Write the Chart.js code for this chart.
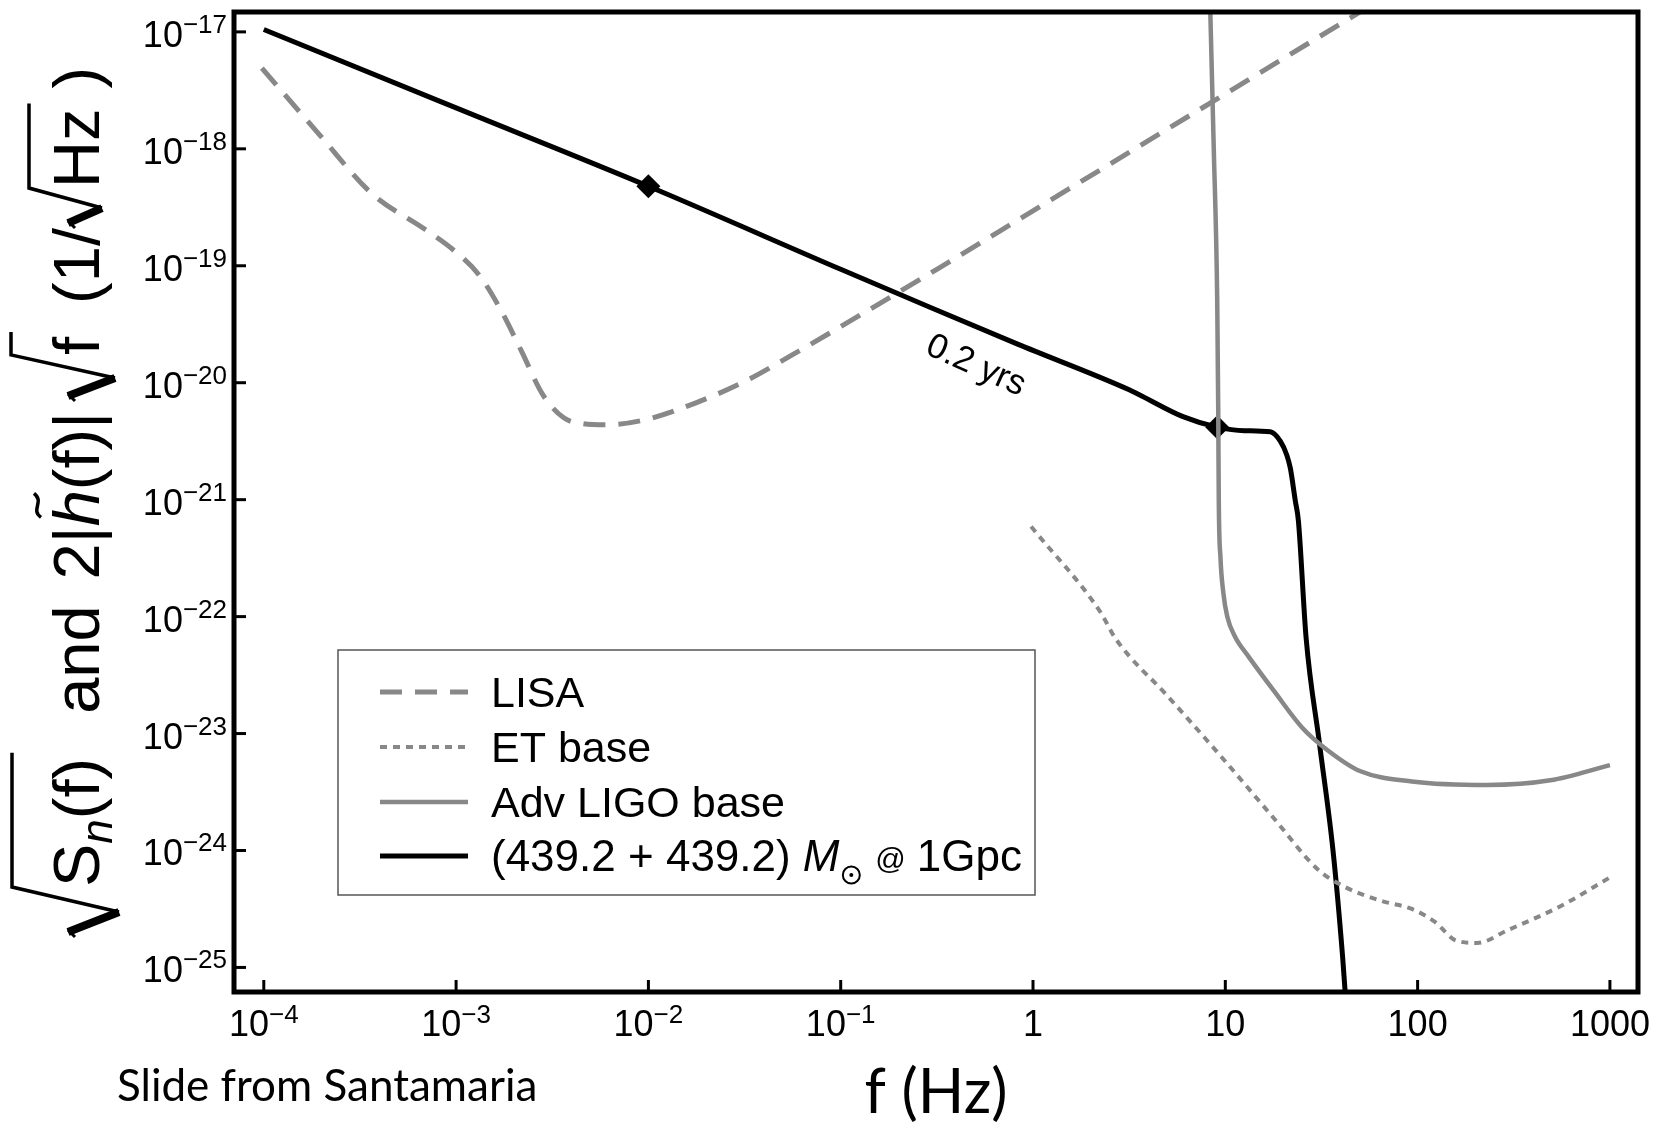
<!DOCTYPE html>
<html>
<head>
<meta charset="utf-8">
<script src="https://cdn.jsdelivr.net/npm/chart.js@4.4.1/dist/chart.umd.min.js"></script>
<style>
    html, body { margin: 0; padding: 0; background: #fff; }
    #wrap { width: 1665px; height: 1122px; }
</style>
</head>
<body>
<div id="wrap"><canvas id="sens" width="1665" height="1122"></canvas></div>
<script>
// all curves are stored as log10(f) / log10(amplitude)

// LISA
const lisaLogF = [-4.01, -3.71, -3.44, -3.16, -3.01, -2.88, -2.77, -2.66, -2.55, -2.44, -2.34, -2.22, -2.0, -1.75, -1.5, -1.25, -1.0, -0.5, 0, 1.0, 2.0];
const lisaLogS = [-17.31, -17.88, -18.38, -18.69, -18.87, -19.08, -19.37, -19.73, -20.10, -20.30, -20.35, -20.36, -20.31, -20.17, -19.99, -19.76, -19.52, -19.03, -18.53, -17.53, -16.53];

// ET base
const etLogF = [-0.01, 0.35, 0.43, 0.70, 0.98, 1.25, 1.48, 1.62, 1.81, 1.97, 2.09, 2.20, 2.31, 2.47, 2.75, 3.0];
const etLogS = [-21.23, -21.96, -22.19, -22.68, -23.20, -23.72, -24.16, -24.31, -24.43, -24.50, -24.61, -24.77, -24.79, -24.68, -24.47, -24.23];

// Adv LIGO base
const ligoLogF = [0.918, 0.922, 0.94, 0.958, 0.963, 0.966, 0.975, 0.99, 1.01, 1.05, 1.12, 1.255, 1.40, 1.53, 1.70, 1.97, 2.36, 2.69, 3.0];
const ligoLogS = [-16.6, -16.83, -18.0, -19.31, -20.2, -21.0, -21.5, -21.8, -22.0, -22.17, -22.34, -22.64, -22.95, -23.14, -23.32, -23.41, -23.44, -23.40, -23.27];

// (439.2 + 439.2) Msun binary at 1 Gpc
const bbhLogF = [-4.0, -3.0, -2.0, -1.0, -0.6, -0.08, 0.5, 0.55, 0.78, 0.958, 1.1, 1.234, 1.286, 1.32, 1.338, 1.364, 1.38, 1.42, 1.49, 1.56, 1.61, 1.64];
const bbhLogS = [-16.98, -17.65, -18.32, -19.03, -19.31, -19.67, -20.06, -20.10, -20.29, -20.38, -20.41, -20.42, -20.50, -20.62, -20.73, -21.01, -21.18, -22.18, -23.09, -24.0, -24.91, -25.6];

// diamonds on the binary track
const markLogF = [-2.0, 0.958];
const markLogS = [-18.32, -20.38];

const xTickExp = [-4, -3, -2, -1, 0, 1, 2, 3];
const xTickLabels = ['10^\u22124', '10^\u22123', '10^\u22122', '10^\u22121', '1', '10', '100', '1000'];
const yTickExp = [-17, -18, -19, -20, -21, -22, -23, -24, -25];
const yTickLabels = ['10^\u221217', '10^\u221218', '10^\u221219', '10^\u221220', '10^\u221221', '10^\u221222', '10^\u221223', '10^\u221224', '10^\u221225'];

const legendLabels = ['LISA', 'ET base', 'Adv LIGO base', '(439.2 + 439.2)'];
const trackLabel = '0.2 yrs';

const gray = '#888888';
const helv = '"Liberation Sans", Arial, sans-serif';
const gill = 'Lato, "Open Sans", sans-serif';

const toPoints = (lf, ls) => lf.map((f, i) => ({ x: Math.pow(10, f), y: Math.pow(10, ls[i]) }));

// draws "10^-n" style label, main text plus raised exponent
const drawPow = (ctx, label, x, y, align, mainFont, supFont, rise) => {
    const parts = label.split('^');
    ctx.font = mainFont;
    const w1 = ctx.measureText(parts[0]).width;
    let w2 = 0;
    if (parts[1]) {
        ctx.font = supFont;
        w2 = ctx.measureText(parts[1]).width;
    }
    const x0 = align === 'right' ? x - w1 - w2 : x - (w1 + w2) / 2;
    ctx.font = mainFont;
    ctx.fillText(parts[0], x0, y);
    if (parts[1]) {
        ctx.font = supFont;
        ctx.fillText(parts[1], x0 + w1, y - rise);
    }
}

// rotated y title: sqrt(S_n(f))  and  2|h~(f)| sqrt(f)  (1/sqrt(Hz))
const drawYTitle = (ctx) => {
    ctx.save();
    ctx.translate(99, 937);
    ctx.rotate(-Math.PI / 2);
    ctx.fillStyle = '#000';
    ctx.strokeStyle = '#000';
    ctx.lineCap = 'butt';
    const big = '65px ' + helv;
    const ital = 'italic 65px ' + helv;
    const sub = 'italic 44px ' + helv;
    let x = 0;
    const put = (s, font, dy) => {
        ctx.font = font;
        ctx.fillText(s, x, dy || 0);
        x += ctx.measureText(s).width;
    };
    const radical = (h, d, rw, body) => {
        const x0 = x;
        ctx.lineWidth = 3;
        ctx.beginPath();
        ctx.moveTo(x0, -24);
        ctx.lineTo(x0 + 7, -31);
        ctx.stroke();
        ctx.lineWidth = 8;
        ctx.beginPath();
        ctx.moveTo(x0 + 5, -31);
        ctx.lineTo(x0 + rw * 0.5, d);
        ctx.stroke();
        x = x0 + rw;
        body();
        ctx.lineWidth = 3.5;
        ctx.beginPath();
        ctx.moveTo(x0 + rw * 0.5, d);
        ctx.lineTo(x0 + rw, -h);
        ctx.lineTo(x + 5, -h);
        ctx.stroke();
        x += 5;
    };

    radical(87, 20, 50, () => {
        put('S', big);
        put('n', sub, 13);
        put('(f)', big);
    });
    x += 39;
    put('and', big);
    x += 26;
    put('2|', big);
    const hx = x;
    put('h', ital);
    // tilde over the h
    ctx.lineWidth = 3.5;
    ctx.beginPath();
    ctx.moveTo(hx + 9, -58);
    ctx.bezierCurveTo(hx + 17, -69, hx + 24, -54, hx + 33, -65);
    ctx.stroke();
    put('(f)|', big);
    x += 11;
    radical(88, 16, 46, () => {
        put('f', big);
    });
    x += 28;
    put('(1/', big);
    radical(70, 3, 40, () => {
        put('Hz', big);
    });
    x += 15;
    put(')', big);
    ctx.restore();
}

const decorations = {
    id: 'decorations',
    afterDraw(chart) {
        const ctx = chart.ctx;
        const area = chart.chartArea;
        const xs = chart.scales.x;
        const ys = chart.scales.y;
        ctx.save();
        ctx.fillStyle = '#000';
        ctx.strokeStyle = '#000';
        ctx.textBaseline = 'alphabetic';
        ctx.textAlign = 'left';

        // inward ticks on left and bottom
        ctx.lineWidth = 3;
        ctx.setLineDash([]);
        xTickExp.forEach(e => {
            const px = xs.getPixelForValue(Math.pow(10, e));
            ctx.beginPath();
            ctx.moveTo(px, area.bottom);
            ctx.lineTo(px, area.bottom - 12);
            ctx.stroke();
        });
        yTickExp.forEach(e => {
            const py = ys.getPixelForValue(Math.pow(10, e));
            ctx.beginPath();
            ctx.moveTo(area.left, py);
            ctx.lineTo(area.left + 12, py);
            ctx.stroke();
        });

        // frame
        ctx.lineWidth = 5;
        ctx.strokeRect(area.left, area.top, area.right - area.left, area.bottom - area.top);

        // tick labels
        const mainFont = '36px ' + helv;
        const supFont = '26px ' + helv;
        xTickExp.forEach((e, i) => {
            const px = xs.getPixelForValue(Math.pow(10, e));
            drawPow(ctx, xTickLabels[i], px, 1036, 'center', mainFont, supFont, 13);
        });
        yTickExp.forEach((e, i) => {
            const py = ys.getPixelForValue(Math.pow(10, e));
            drawPow(ctx, yTickLabels[i], 227, py + 15, 'right', mainFont, supFont, 14);
        });

        // "0.2 yrs" along the binary track
        const fa = -0.22, fb = 0.28;
        const interp = (lf) => {
            for (let i = 0; i < bbhLogF.length - 1; i++) {
                if (lf >= bbhLogF[i] && lf <= bbhLogF[i + 1]) {
                    const t = (lf - bbhLogF[i]) / (bbhLogF[i + 1] - bbhLogF[i]);
                    return bbhLogS[i] + t * (bbhLogS[i + 1] - bbhLogS[i]);
                }
            }
            return bbhLogS[0];
        }
        const ax = xs.getPixelForValue(Math.pow(10, fa)), ay = ys.getPixelForValue(Math.pow(10, interp(fa)));
        const bx = xs.getPixelForValue(Math.pow(10, fb)), by = ys.getPixelForValue(Math.pow(10, interp(fb)));
        const ang = Math.atan2(by - ay, bx - ax) + 0.03;
        ctx.save();
        ctx.translate(ax, ay);
        ctx.rotate(ang);
        ctx.font = '35px ' + helv;
        ctx.textAlign = 'center';
        ctx.fillText(trackLabel, 0, 46);
        ctx.restore();

        // legend box
        const lx = 338, ly = 650, lw = 697, lh = 245;
        ctx.fillStyle = '#fff';
        ctx.fillRect(lx, ly, lw, lh);
        ctx.strokeStyle = '#555';
        ctx.lineWidth = 1.5;
        ctx.strokeRect(lx, ly, lw, lh);
        const rows = [692, 747, 802, 856];
        const legFont = '43px ' + helv;
        chart.data.datasets.slice(0, 4).forEach((ds, i) => {
            ctx.strokeStyle = ds.borderColor;
            ctx.lineWidth = ds.borderWidth;
            ctx.setLineDash(ds.borderDash || []);
            ctx.beginPath();
            ctx.moveTo(380, rows[i]);
            ctx.lineTo(468, rows[i]);
            ctx.stroke();
            ctx.setLineDash([]);
            ctx.fillStyle = '#000';
            ctx.font = i === 3 ? '44px ' + helv : legFont;
            ctx.textAlign = 'left';
            ctx.fillText(legendLabels[i], 491, rows[i] + 15);
        });
        // rest of the binary label: M_sun @ 1Gpc
        ctx.font = '44px ' + helv;
        let tx = 491 + ctx.measureText(legendLabels[3]).width + 12;
        const base = rows[3] + 15;
        ctx.font = 'italic 44px ' + helv;
        ctx.fillText('M', tx, base);
        tx += ctx.measureText('M').width + 3;
        ctx.strokeStyle = '#000';
        ctx.lineWidth = 2;
        ctx.beginPath();
        ctx.arc(tx + 9, base + 4, 8.5, 0, Math.PI * 2);
        ctx.stroke();
        ctx.beginPath();
        ctx.arc(tx + 9, base + 4, 2, 0, Math.PI * 2);
        ctx.fill();
        tx += 33;
        ctx.font = '30px ' + helv;
        ctx.fillText('@', tx, base - 2);
        tx += ctx.measureText('@').width + 11;
        ctx.font = '44px ' + helv;
        ctx.fillText('1Gpc', tx, base);

        // axis titles and credit line
        drawYTitle(ctx);
        ctx.fillStyle = '#000';
        ctx.textAlign = 'left';
        ctx.font = '61px ' + gill;
        const xt = 'f (Hz)';
        const xw = ctx.measureText(xt).width;
        ctx.fillText(xt, 936 - xw / 2, 1113);
        ctx.font = '44px ' + gill;
        ctx.fillText('Slide from Santamaria', 117, 1101);

        ctx.restore();
    }
};

const lineStyle = { pointRadius: 0, fill: false, cubicInterpolationMode: 'monotone', clip: 0 };

new Chart(document.getElementById('sens'), {
    type: 'line',
    data: {
        datasets: [
            Object.assign({ label: 'LISA', data: toPoints(lisaLogF, lisaLogS), borderColor: gray, borderWidth: 5, borderDash: [22, 13] }, lineStyle),
            Object.assign({ label: 'ET base', data: toPoints(etLogF, etLogS), borderColor: gray, borderWidth: 4, borderDash: [7, 6] }, lineStyle),
            Object.assign({ label: 'Adv LIGO base', data: toPoints(ligoLogF, ligoLogS), borderColor: gray, borderWidth: 4.5 }, lineStyle),
            Object.assign({ label: 'binary', data: toPoints(bbhLogF, bbhLogS), borderColor: '#000', borderWidth: 5 }, lineStyle),
            { label: 'marks', data: toPoints(markLogF, markLogS), showLine: false, pointStyle: 'rectRot', pointRadius: 12, backgroundColor: '#000', borderColor: '#000', borderWidth: 0, clip: 0 }
        ]
    },
    options: {
        responsive: false,
        animation: false,
        devicePixelRatio: 1,
        layout: { padding: { left: 0, top: 10, right: 27, bottom: 0 } },
        scales: {
            x: {
                type: 'logarithmic',
                min: Math.pow(10, -4.15),
                max: Math.pow(10, 3.146),
                grid: { display: false },
                border: { display: false },
                ticks: { display: false },
                afterFit: (s) => { s.height = 130; }
            },
            y: {
                type: 'logarithmic',
                min: Math.pow(10, -25.21),
                max: Math.pow(10, -16.83),
                grid: { display: false },
                border: { display: false },
                ticks: { display: false },
                afterFit: (s) => { s.width = 234; }
            }
        },
        plugins: {
            legend: { display: false },
            tooltip: { enabled: false }
        }
    },
    plugins: [decorations]
});
</script>
</body>
</html>
